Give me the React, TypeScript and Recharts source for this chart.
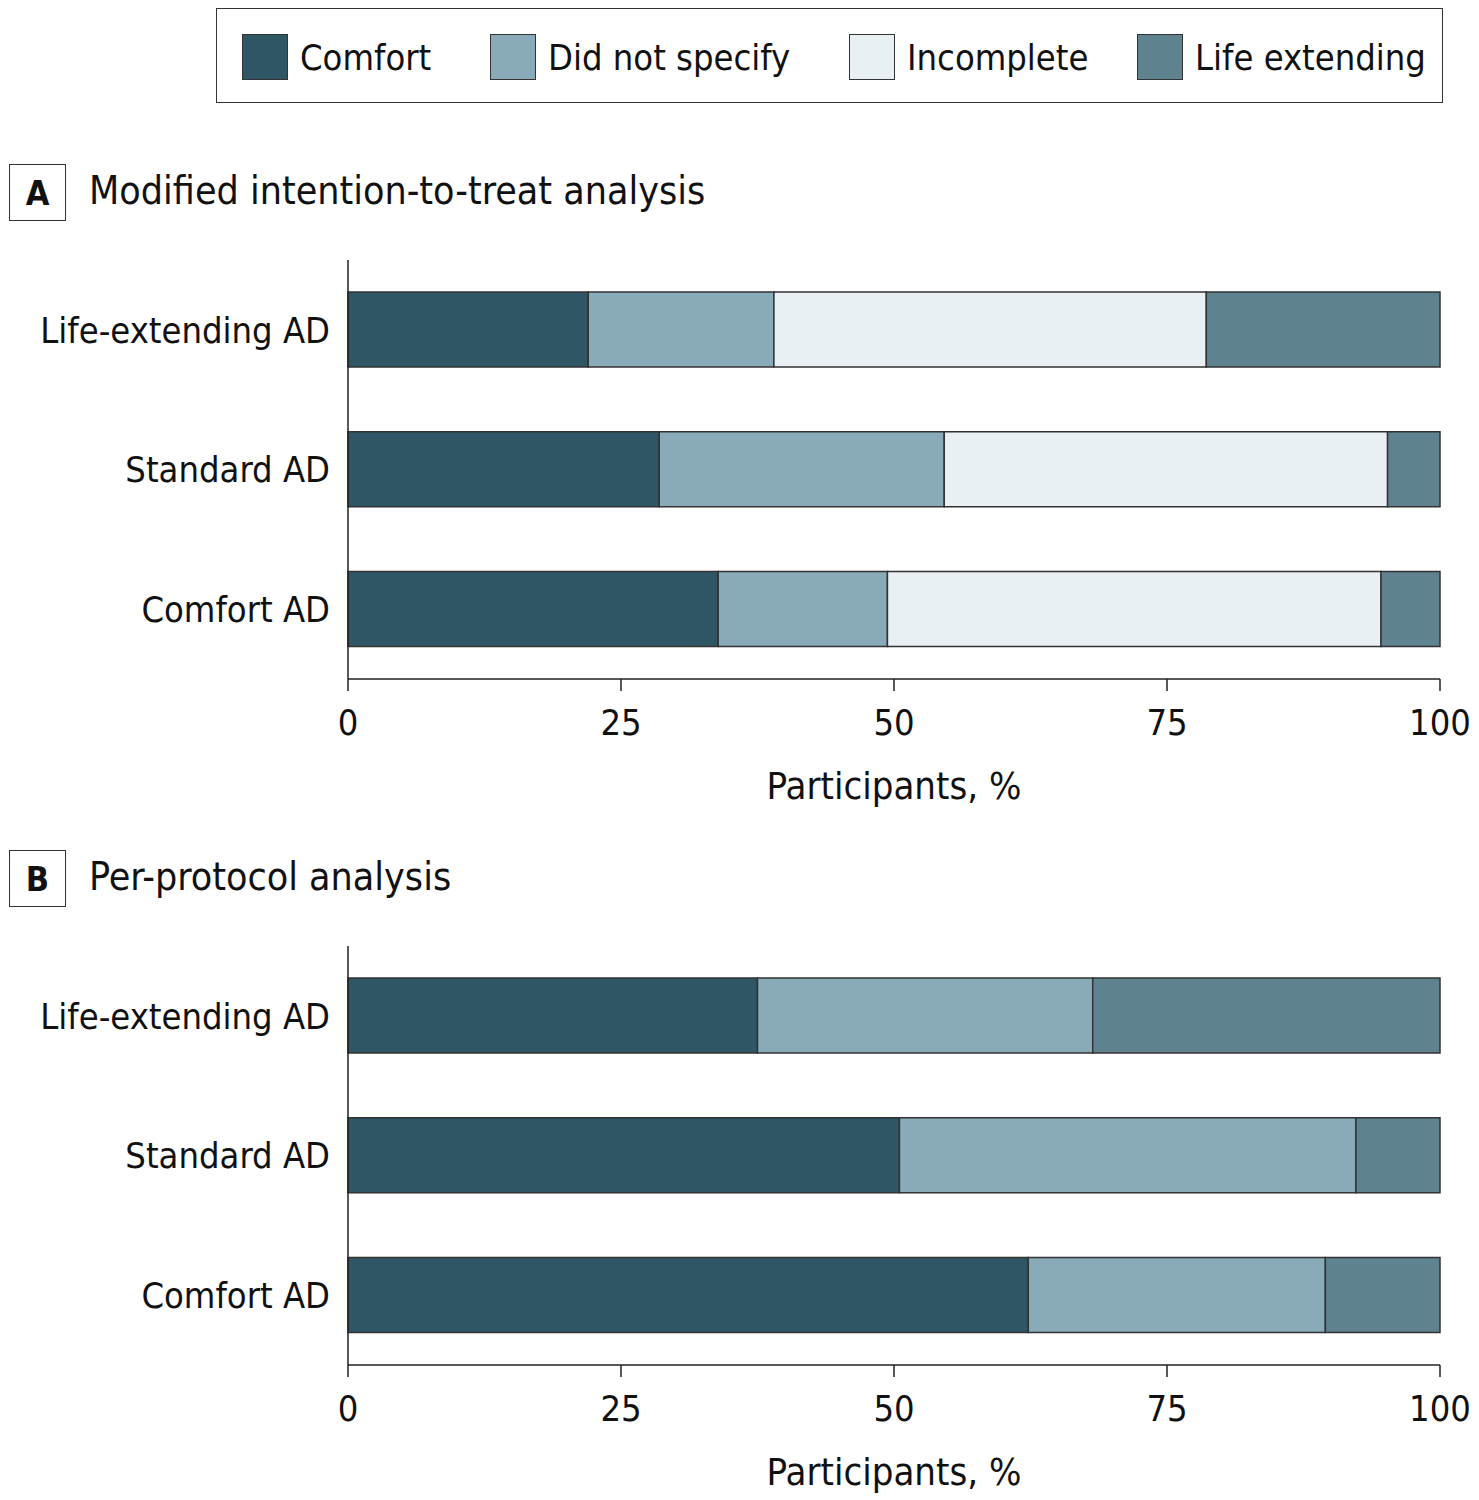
import { Bar, BarChart, XAxis, YAxis, Label } from "recharts";

const categories = ["Life-extending AD", "Standard AD", "Comfort AD"];
const xTicks = [0, 25, 50, 75, 100];

// A: modified intention-to-treat
const comfortA = [22, 28.5, 33.9];
const unspecifiedA = [17, 26.1, 15.5];
const incompleteA = [39.6, 40.6, 45.2];
const lifeA = [21.4, 4.8, 5.4];

// B: per-protocol
const comfortB = [37.5, 50.5, 62.3];
const unspecifiedB = [30.7, 41.8, 27.2];
const lifeB = [31.8, 7.7, 10.5];

const series = [
  { key: "comfort", name: "Comfort", color: "#2f5664" },
  { key: "unspecified", name: "Did not specify", color: "#89abb9" },
  { key: "incomplete", name: "Incomplete", color: "#e8f0f3" },
  { key: "life", name: "Life extending", color: "#5f8290" },
];

const FONT = "'Liberation Sans Narrow', 'DejaVu Sans Condensed', 'Open Sans', sans-serif";

const rowsA = categories.map((name, i) => ({
  name,
  comfort: comfortA[i],
  unspecified: unspecifiedA[i],
  incomplete: incompleteA[i],
  life: lifeA[i],
}));

const rowsB = categories.map((name, i) => ({
  name,
  comfort: comfortB[i],
  unspecified: unspecifiedB[i],
  life: lifeB[i],
}));

function Panel({
  letter,
  title,
  rows,
  keys,
  top,
}: {
  letter: string;
  title: string;
  rows: Record<string, string | number>[];
  keys: string[];
  top: number;
}) {
  return (
    <>
      <div
        style={{
          position: "absolute",
          left: 9,
          top: top - 76,
          width: 55,
          height: 55,
          border: "1.5px solid #333",
          display: "flex",
          alignItems: "center",
          justifyContent: "center",
          fontSize: 34,
          fontWeight: 700,
        }}
      >
        {letter}
      </div>
      <div style={{ position: "absolute", left: 89, top: top - 74, fontSize: 39, lineHeight: "50px" }}>
        {title}
      </div>
      <div style={{ position: "absolute", left: 0, top: top }}>
        <BarChart
          width={1479}
          height={569}
          data={rows}
          layout="vertical"
          barCategoryGap="23%"
          margin={{ top: 20, right: 39, bottom: 0, left: 8 }}
          style={{ fontFamily: FONT }}
        >
          <XAxis
            type="number"
            domain={[0, 100]}
            ticks={xTicks}
            height={130}
            tickSize={12}
            tickMargin={18}
            stroke="#222"
            strokeWidth={1.5}
            tick={{ fill: "#111", fontSize: 36 }}
          >
            <Label
              value="Participants, %"
              position="insideBottom"
              offset={10}
              style={{ fill: "#111", fontSize: 38 }}
            />
          </XAxis>
          <YAxis
            type="category"
            dataKey="name"
            width={340}
            tickLine={false}
            tickMargin={12}
            stroke="#222"
            strokeWidth={1.5}
            tick={{ fill: "#111", fontSize: 36 }}
          />
          {series
            .filter((s) => keys.includes(s.key))
            .map((s) => (
              <Bar
                key={s.key}
                dataKey={s.key}
                name={s.name}
                stackId="a"
                fill={s.color}
                stroke="#333"
                strokeWidth={1.5}
                isAnimationActive={false}
              />
            ))}
        </BarChart>
      </div>
    </>
  );
}

export default function App() {
  return (
    <div
      style={{
        position: "absolute",
        left: 0,
        top: 0,
        width: 1479,
        height: 1500,
        background: "#fff",
        fontFamily: FONT,
        color: "#111",
      }}
    >
      <div
        style={{
          position: "absolute",
          left: 216,
          top: 8,
          width: 1225,
          height: 93,
          border: "1.5px solid #333",
        }}
      >
        {series.map((s, i) => (
          <div
            key={s.key}
            style={{
              position: "absolute",
              left: [25, 273, 632, 920][i],
              top: 25,
              display: "flex",
              alignItems: "center",
              fontSize: 36,
            }}
          >
            <span
              style={{
                display: "inline-block",
                width: 44,
                height: 44,
                background: s.color,
                border: "1.5px solid #333",
                marginRight: 12,
              }}
            />
            {s.name}
          </div>
        ))}
      </div>
      <Panel
        letter="A"
        title="Modified intention-to-treat analysis"
        rows={rowsA}
        keys={["comfort", "unspecified", "incomplete", "life"]}
        top={240}
      />
      <Panel
        letter="B"
        title="Per-protocol analysis"
        rows={rowsB}
        keys={["comfort", "unspecified", "life"]}
        top={926}
      />
    </div>
  );
}
